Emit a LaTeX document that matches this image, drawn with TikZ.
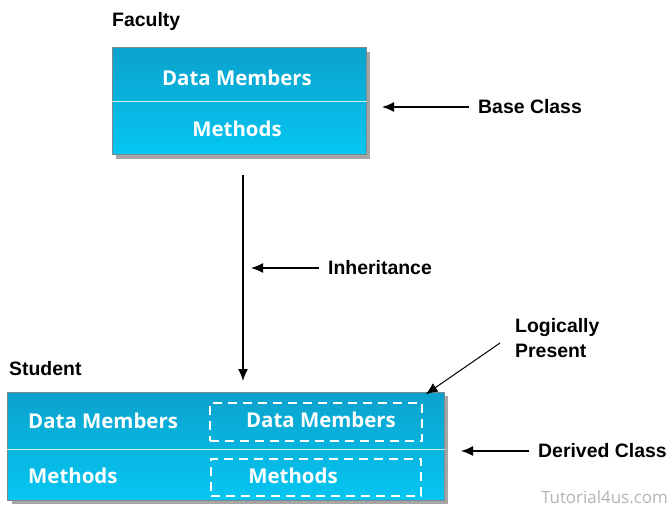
\documentclass[tikz,border=0pt]{standalone}
\usepackage{fontspec}
\setmainfont{Liberation Sans}
\newfontfamily\boxfont{Open Sans}
\usetikzlibrary{shadows,arrows.meta}
\definecolor{cyantop}{HTML}{0BA2CC}
\definecolor{cyanbot}{HTML}{05C6F2}
\definecolor{boxedge}{HTML}{7A8A90}
\definecolor{markgray}{HTML}{B4B4B4}
\tikzset{
  classbox/.style={draw=boxedge, line width=1bp, top color=cyantop, bottom color=cyanbot,
    drop shadow={shadow xshift=4bp, shadow yshift=-4bp, opacity=0.7}},
  member/.style={text=white, font=\boxfont\bfseries\fontsize{20.5}{24}\selectfont, inner sep=0pt},
  dashbox/.style={draw=white, dash pattern=on 9bp off 6bp, line width=1.4bp},
  note/.style={font=\bfseries\fontsize{19.5}{25}\selectfont, align=left, inner sep=0pt, anchor=west},
  pointer/.style={-{Latex[length=12bp,width=10bp]}, line width=1.5bp, shorten <=9bp}
}
\begin{document}
\begin{tikzpicture}[x=1bp,y=-1bp]
\useasboundingbox (0,0) rectangle (672,506);
% base class
\node[note] (faculty) at (112,21) {Faculty};
\node[classbox, minimum width=254bp, minimum height=107bp, inner sep=0pt] (base) at (239,101.5) {};
\draw[white!80!cyan] (base.west) -- (base.east);
\node[member] (bdata) at (237,78) {Data Members};
\node[member] (bmeth) at (237,129) {Methods};
\node[note] (baselbl) at (478,107) {Base Class};
\coordinate (basetip) at (382,107);
\draw[pointer] (baselbl.west) -- (basetip);
% inheritance
\coordinate (inhtop) at (243,175);
\coordinate (inhbot) at (243,381);
\draw[pointer, shorten <=0pt] (inhtop) -- (inhbot);
\node[note] (inhlbl) at (328,268) {Inheritance};
\coordinate (inhtip) at (251,268);
\draw[pointer] (inhlbl.west) -- (inhtip);
% derived class
\node[note] (student) at (9,369) {Student};
\node[classbox, minimum width=436bp, minimum height=108bp, inner sep=0pt] (derived) at (226,446) {};
\draw[white!80!cyan] ([yshift=-3bp]derived.west) -- ([yshift=-3bp]derived.east);
\node[member, anchor=west] (ddata) at (28,421) {Data Members};
\node[member, anchor=west] (dmeth) at (28,476) {Methods};
\node[dashbox, minimum width=212bp, minimum height=38bp, inner sep=0pt] (ldata) at (316,422) {};
\node[dashbox, minimum width=210bp, minimum height=37bp, inner sep=0pt] (lmeth) at (316,477.5) {};
\node[member] (ldatatxt) at (321,420) {Data Members};
\node[member] (lmethtxt) at (293,476) {Methods};
\node[note] (logic) at (515,338.5) {Logically\\Present};
\coordinate (logicfoot) at (500,343);
\draw[pointer, line width=1bp, shorten <=0pt] (logicfoot) -- ([xshift=3bp,yshift=8bp]ldata.north east);
\node[note] (derlbl) at (538,451) {Derived Class};
\coordinate (dertip) at (461,451);
\draw[pointer] (derlbl.west) -- (dertip);
\node[text=markgray, font=\boxfont\fontsize{17}{19}\selectfont, inner sep=0pt, anchor=east] (mark) at (668,497) {Tutorial4us.com};
\end{tikzpicture}
\end{document}
